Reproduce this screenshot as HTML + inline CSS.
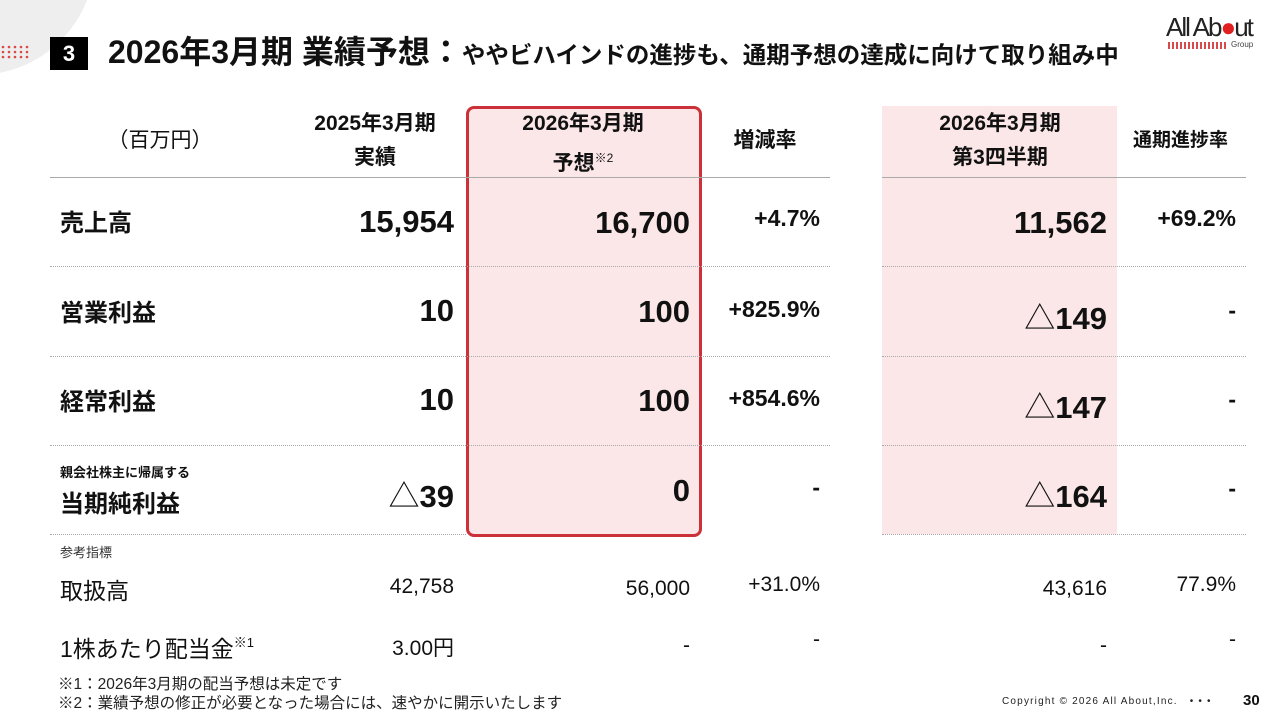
<!DOCTYPE html>
<html><head><meta charset="utf-8"><style>
*{margin:0;padding:0;box-sizing:border-box}
body{width:1280px;height:720px;background:#fff;position:relative;overflow:hidden;font-family:"Liberation Sans","Noto Sans CJK JP",sans-serif;color:#111}
.a{position:absolute;white-space:nowrap}
.r{text-align:right}
.c{text-align:center}
.n{font-family:"Liberation Sans","Noto Sans CJK JP",sans-serif}
.big{font-size:31px;font-weight:bold}
.pct{font-size:23px;font-weight:bold}
.lbl{font-size:24px;font-weight:bold}
.hd{font-size:21px;font-weight:bold;line-height:34px}
.dl{position:absolute;height:0;border-top:1px dotted #aaa}
.sm{font-size:21px;font-weight:normal}
</style></head><body>
<div class="a" style="left:-140px;top:-160px;width:235px;height:235px;border-radius:50%;background:#eeeeee"></div>
<svg class="a" style="left:0;top:44px" width="32" height="16">
<g fill="#d94a4a"><circle cx="3" cy="3" r="1.3"/><circle cx="9" cy="3" r="1.3"/><circle cx="15" cy="3" r="1.3"/><circle cx="21" cy="3" r="1.3"/><circle cx="27" cy="3" r="1.3"/>
<circle cx="3" cy="8" r="1.3"/><circle cx="9" cy="8" r="1.3"/><circle cx="15" cy="8" r="1.3"/><circle cx="21" cy="8" r="1.3"/><circle cx="27" cy="8" r="1.3"/>
<circle cx="3" cy="13" r="1.3"/><circle cx="9" cy="13" r="1.3"/><circle cx="15" cy="13" r="1.3"/><circle cx="21" cy="13" r="1.3"/><circle cx="27" cy="13" r="1.3"/></g></svg>
<div class="a" style="left:50px;top:37px;width:38px;height:33px;background:#000;color:#fff;font-weight:bold;font-size:22px;text-align:center;line-height:33px">3</div>
<div class="a n" style="left:108px;top:30px;font-size:32px;font-weight:bold;line-height:44px">2026年3月期 業績予想：<span style="font-size:23.5px">ややビハインドの進捗も、通期予想の達成に向けて取り組み中</span></div>
<div class="a" style="left:1166px;top:12px;font-size:26px;letter-spacing:-2px;color:#222">All Ab<span style="color:#e02020">●</span>ut</div>
<div class="a" style="left:1168px;top:42px;width:60px;height:7px;background:repeating-linear-gradient(90deg,#d94a4a 0 2px,transparent 2px 4px)"></div>
<div class="a" style="left:1231px;top:40px;font-size:8px;color:#444">Group</div>

<div class="a" style="left:466px;top:106px;width:236px;height:431px;background:#fbe7e8;border:3px solid #cc3038;border-radius:8px"></div>
<div class="a" style="left:882px;top:106px;width:235px;height:428px;background:#fbe7e8"></div>

<div class="a hd c n" style="left:95px;top:124px;width:130px;font-weight:normal">（百万円）</div>
<div class="a hd c n" style="left:300px;top:107px;width:150px">2025年3月期<br>実績</div>
<div class="a hd c n" style="left:508px;top:107px;width:150px">2026年3月期<br>予想<sup style="font-size:12px;font-weight:normal;vertical-align:8px">※2</sup></div>
<div class="a hd c n" style="left:705px;top:124px;width:120px">増減率</div>
<div class="a hd c n" style="left:920px;top:107px;width:160px">2026年3月期<br>第3四半期</div>
<div class="a hd c n" style="left:1118px;top:124px;width:125px;font-size:19px">通期進捗率</div>

<div class="a" style="left:50px;top:177px;width:780px;height:1px;background:#aaa"></div>
<div class="a" style="left:882px;top:177px;width:364px;height:1px;background:#aaa"></div>
<div class="dl" style="left:50px;top:266px;width:780px"></div><div class="dl" style="left:882px;top:266px;width:364px"></div>
<div class="dl" style="left:50px;top:356px;width:780px"></div><div class="dl" style="left:882px;top:356px;width:364px"></div>
<div class="dl" style="left:50px;top:445px;width:780px"></div><div class="dl" style="left:882px;top:445px;width:364px"></div>
<div class="dl" style="left:50px;top:534px;width:416px"></div><div class="dl" style="left:882px;top:534px;width:364px"></div>

<div class="a lbl n" style="left:60px;top:203px">売上高</div>
<div class="a lbl n" style="left:60px;top:293px">営業利益</div>
<div class="a lbl n" style="left:60px;top:382px">経常利益</div>
<div class="a n" style="left:60px;top:462px;font-size:13px;font-weight:bold">親会社株主に帰属する</div>
<div class="a lbl n" style="left:60px;top:484px">当期純利益</div>

<div class="a r big n" style="left:250px;top:204px;width:204px">15,954</div>
<div class="a r big n" style="left:250px;top:293px;width:204px">10</div>
<div class="a r big n" style="left:250px;top:382px;width:204px">10</div>
<div class="a r big n" style="left:250px;top:471px;width:204px"><span style="font-weight:normal">△</span>39</div>

<div class="a r big n" style="left:486px;top:205px;width:204px">16,700</div>
<div class="a r big n" style="left:486px;top:294px;width:204px">100</div>
<div class="a r big n" style="left:486px;top:383px;width:204px">100</div>
<div class="a r big n" style="left:486px;top:473px;width:204px">0</div>

<div class="a r pct n" style="left:700px;top:205px;width:120px">+4.7%</div>
<div class="a r pct n" style="left:700px;top:296px;width:120px">+825.9%</div>
<div class="a r pct n" style="left:700px;top:385px;width:120px">+854.6%</div>
<div class="a r pct n" style="left:700px;top:474px;width:120px">-</div>

<div class="a r big n" style="left:900px;top:205px;width:207px">11,562</div>
<div class="a r big n" style="left:900px;top:293px;width:207px"><span style="font-weight:normal">△</span>149</div>
<div class="a r big n" style="left:900px;top:382px;width:207px"><span style="font-weight:normal">△</span>147</div>
<div class="a r big n" style="left:900px;top:471px;width:207px"><span style="font-weight:normal">△</span>164</div>

<div class="a r pct n" style="left:1116px;top:205px;width:120px">+69.2%</div>
<div class="a r pct n" style="left:1116px;top:297px;width:120px">-</div>
<div class="a r pct n" style="left:1116px;top:386px;width:120px">-</div>
<div class="a r pct n" style="left:1116px;top:475px;width:120px">-</div>

<div class="a n" style="left:60px;top:542px;font-size:13px;color:#333">参考指標</div>
<div class="a sm n" style="left:60px;top:572px;font-size:23px">取扱高</div>
<div class="a sm n" style="left:60px;top:630px;font-size:23px">1株あたり配当金<sup style="font-size:13px;vertical-align:10px">※1</sup></div>
<div class="a r sm n" style="left:250px;top:575px;width:204px">42,758</div>
<div class="a r sm n" style="left:250px;top:632px;width:204px">3.00円</div>
<div class="a r sm n" style="left:486px;top:577px;width:204px">56,000</div>
<div class="a r sm n" style="left:486px;top:634px;width:204px">-</div>
<div class="a r sm n" style="left:700px;top:573px;width:120px">+31.0%</div>
<div class="a r sm n" style="left:700px;top:628px;width:120px">-</div>
<div class="a r sm n" style="left:900px;top:577px;width:207px">43,616</div>
<div class="a r sm n" style="left:900px;top:634px;width:207px">-</div>
<div class="a r sm n" style="left:1116px;top:573px;width:120px">77.9%</div>
<div class="a r sm n" style="left:1116px;top:628px;width:120px">-</div>

<div class="a n" style="left:58px;top:675px;font-size:15.5px;line-height:19px;color:#222">※1：2026年3月期の配当予想は未定です<br>※2：業績予想の修正が必要となった場合には、速やかに開示いたします</div>
<div class="a" style="left:1002px;top:696px;font-size:10px;letter-spacing:1.2px;color:#222">Copyright © 2026 All About,Inc.&nbsp;&nbsp;&nbsp;• • •</div>
<div class="a" style="left:1243px;top:692px;font-size:15px;font-weight:bold">30</div>
</body></html>
